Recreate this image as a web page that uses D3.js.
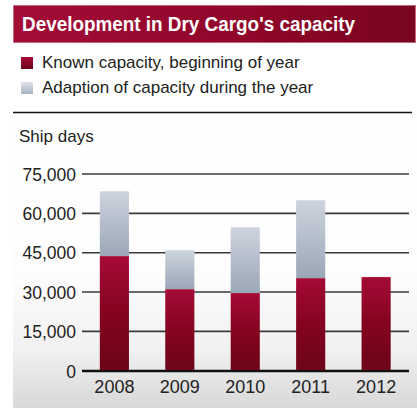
<!DOCTYPE html>
<html><head><meta charset="utf-8">
<script src="https://cdn.jsdelivr.net/npm/d3@7"></script>
<style>html,body{margin:0;padding:0;background:#fff}svg{display:block}</style>
</head><body>
<script>
const years = ["2008","2009","2010","2011","2012"];
const known = [43700, 31100, 29600, 35300, 35700];
const adaption = [24700, 14850, 25100, 29700, 0];
const yTicks = [0, 15000, 30000, 45000, 60000, 75000];
const seriesNames = ["Known capacity, beginning of year", "Adaption of capacity during the year"];
const title = "Development in Dry Cargo's capacity";
const yLabel = "Ship days";

const W = 417, H = 408;
const svg = d3.select("body").append("svg").attr("width", W).attr("height", H);
const defs = svg.append("defs");
function lg(id, x2, y2, stops){
  const g = defs.append("linearGradient").attr("id", id).attr("x1",0).attr("y1",0).attr("x2",x2).attr("y2",y2);
  stops.forEach(s => g.append("stop").attr("offset", s[0]).attr("stop-color", s[1]));
}
lg("banner",1,0,[[0,"#a30c37"],[0.6,"#8e0629"],[1,"#78051e"]]);
lg("red",0,1,[[0,"#a50a36"],[0.5,"#84041f"],[1,"#6c0518"]]);
lg("gray",0,1,[[0,"#cdd4de"],[1,"#9ba7b7"]]);
lg("bg",0,1,[[0,"#ffffff"],[0.55,"#fdfdfd"],[0.8,"#f1f1f1"],[1,"#d8d8d8"]]);
lg("legRed",0,1,[[0,"#a50a36"],[1,"#6c0518"]]);
lg("legGray",0,1,[[0,"#dfe3ea"],[1,"#aab4c2"]]);

const font = "'Liberation Sans', Arial, sans-serif";

// background panel
svg.append("rect").attr("x",13).attr("y",113).attr("width",W-13).attr("height",H-113).attr("fill","url(#bg)");

// title banner
svg.append("rect").attr("x",13.5).attr("y",5.5).attr("width",402).attr("height",37)
  .attr("fill","url(#banner)").attr("stroke","#c9687f").attr("stroke-width",1);
svg.append("text").attr("x",22).attr("y",31).attr("fill","#fff")
  .attr("font-family",font).attr("font-weight","bold").attr("font-size",19.5)
  .attr("textLength",333).attr("lengthAdjust","spacingAndGlyphs").text(title);

// legend
const leg = svg.append("g");
seriesNames.forEach((n,i)=>{
  const y = 57 + i*25;
  leg.append("rect").attr("x",21).attr("y",y).attr("width",12).attr("height",12)
    .attr("fill", i===0 ? "url(#legRed)" : "url(#legGray)");
  leg.append("text").attr("x",42).attr("y",y+11).attr("fill","#222")
    .attr("font-family",font).attr("font-size",17).text(n);
});

// separator
svg.append("line").attr("x1",13).attr("x2",412).attr("y1",112.5).attr("y2",112.5)
  .attr("stroke","#111").attr("stroke-width",1.5);

svg.append("text").attr("x",19).attr("y",142).attr("fill","#222")
  .attr("font-family",font).attr("font-size",17).text(yLabel);

// scales
const y = d3.scaleLinear().domain([0,75000]).range([370.7,174]);
const x = d3.scaleBand().domain(years).range([81.5,409]).paddingInner(0.555).paddingOuter(0.28);

// gridlines + axis labels
const yAxis = d3.axisLeft(y).tickValues(yTicks).tickSize(0).tickPadding(6)
  .tickFormat(d3.format(","));
const ga = svg.append("g").attr("transform","translate(76,0)").call(yAxis);
ga.select(".domain").remove();
ga.selectAll("text").attr("font-family",font).attr("font-size",17.5).attr("fill","#222")
  .attr("x",0).attr("dy","0.36em");

svg.append("g").selectAll("line").data(yTicks).join("line")
  .attr("x1",82).attr("x2",409).attr("y1",d=>y(d)).attr("y2",d=>y(d))
  .attr("stroke",d=> d===0 ? "#111" : "#3a3a3a").attr("stroke-width",d=> d===0 ? 2 : 1.6);

// bars
const stack = d3.stack().keys(["known","adaption"])(years.map((yr,i)=>({year:yr, known:known[i], adaption:adaption[i]})));
const fills = ["url(#red)","url(#gray)"];
stack.forEach((s,si)=>{
  svg.append("g").selectAll("rect").data(s.filter(d=>d[1]-d[0]>0)).join("rect")
    .attr("x",d=>x(d.data.year)).attr("width",x.bandwidth())
    .attr("y",d=>y(d[1])).attr("height",d=>y(d[0])-y(d[1]))
    .attr("fill",fills[si]);
});
// redraw baseline over bars
svg.append("line").attr("x1",82).attr("x2",409).attr("y1",y(0)+0.5).attr("y2",y(0)+0.5)
  .attr("stroke","#111").attr("stroke-width",2);

// x labels
const xAxis = d3.axisBottom(x).tickSize(0).tickPadding(0);
const gx = svg.append("g").attr("transform","translate(0,"+(y(0))+")").call(xAxis);
gx.select(".domain").remove();
gx.selectAll("text").attr("font-family",font).attr("font-size",18).attr("fill","#222")
  .attr("dy",null).attr("y",22);
</script>
</body></html>
